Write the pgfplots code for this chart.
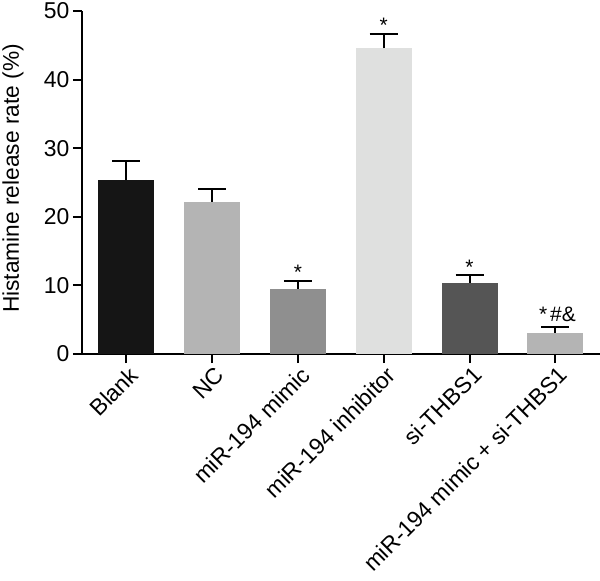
\documentclass[border=0pt]{standalone}
\usepackage{fontspec}
\setmainfont{Liberation Sans}
\usepackage{pgfplots}
\pgfplotsset{compat=1.18}
\definecolor{cBlank}{HTML}{151515}
\definecolor{cNC}{HTML}{B4B4B4}
\definecolor{cMimic}{HTML}{8F8F8F}
\definecolor{cInh}{HTML}{DFE0DF}
\definecolor{cSi}{HTML}{555555}
\definecolor{cCombo}{HTML}{B4B4B4}
\pgfplotsset{
  mybar/.style={ybar, bar width=56bp, bar shift=0pt, draw=none, fill=#1,
    error bars/.cd, y dir=plus, y explicit,
    error bar style={line width=2bp, black, solid},
    error mark options={line width=2bp, mark size=14bp, black, rotate=90}},
}
\begin{document}
\begin{tikzpicture}
\begin{axis}[
  scale only axis, width=518bp, height=343bp,
  xmin=-0.515, xmax=5.52, ymin=0, ymax=50,
  axis x line*=bottom, axis y line*=left,
  ytick={0,10,...,50},
  xtick={0,1,2,3,4,5},
  xticklabels={Blank,NC,miR-194 mimic,miR-194 inhibitor,si-THBS1,miR-194 mimic + si-THBS1},
  tick align=outside, major tick length=9bp,
  tick style={line width=2bp, black},
  axis line style={line width=2bp, black},
  /pgf/number format/assume math mode=true,
  tick label style={font=\fontsize{23}{27}\selectfont},
  x tick label style={xshift=8bp, yshift=-8bp, rotate=45, anchor=east, inner sep=0pt},
  ylabel={Histamine release rate (\%)},
  ylabel style={font=\fontsize{22.8}{27}\selectfont, at={(axis description cs:-0.133,0.512)}, anchor=center, rotate=0},
  clip=false,
]
\addplot[mybar=cBlank] coordinates {(0,25.4) +- (0,2.7)};
\addplot[mybar=cNC] coordinates {(1,22.2) +- (0,1.8)};
\addplot[mybar=cMimic] coordinates {(2,9.5) +- (0,1.2)};
\addplot[mybar=cInh] coordinates {(3,44.6) +- (0,2.1)};
\addplot[mybar=cSi] coordinates {(4,10.4) +- (0,1.1)};
\addplot[mybar=cCombo] coordinates {(5,3.1) +- (0,0.8)};
\node[anchor=base, inner sep=0, font=\fontsize{21}{24}\selectfont, yshift=1bp] at (axis cs:2,10.7) {*};
\node[anchor=base, inner sep=0, font=\fontsize{21}{24}\selectfont, yshift=1bp] at (axis cs:3,46.7) {*};
\node[anchor=base, inner sep=0, font=\fontsize{21}{24}\selectfont, yshift=1bp] at (axis cs:4,11.5) {*};
\node[anchor=base, inner sep=0, font=\fontsize{21}{24}\selectfont, yshift=6bp, xshift=2bp] at (axis cs:5,3.9) {*\kern3bp\#\&};
\coordinate (LL) at (rel axis cs:0,0);
\coordinate (UR) at (rel axis cs:1,1);
\end{axis}
\pgfresetboundingbox
\path[use as bounding box] ([xshift=-82bp,yshift=-227bp]LL) rectangle ([yshift=11bp]UR);
\end{tikzpicture}
\end{document}
